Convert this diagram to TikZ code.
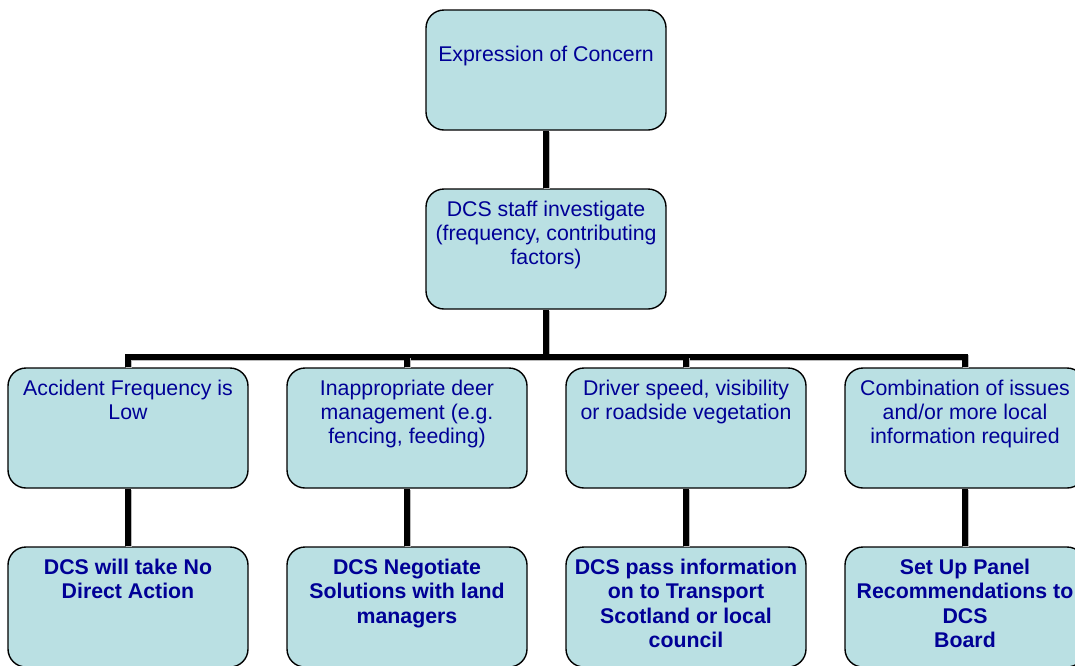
\documentclass[tikz,border=0pt]{standalone}
\usepackage{fontspec}
\setmainfont{Liberation Sans}
\definecolor{boxfill}{RGB}{186,224,227}
\definecolor{txtblue}{RGB}{0,0,150}
\newcommand\bxt[2]{\parbox[c][118pt][t]{226pt}{\centering\rule{0pt}{#1}#2\par}}
\begin{document}
\begin{tikzpicture}[x=1pt,y=-1pt,
  box/.style={draw=black, line width=1.4pt, fill=boxfill, rounded corners=18pt,
    inner xsep=7pt, inner ysep=1pt, text=txtblue,
    font=\fontsize{21.3}{24}\selectfont},
  bbox/.style={box, font=\fontsize{21.3}{24.3}\selectfont\bfseries},
  conn/.style={line width=5.2pt, draw=black,
    preaction={draw=gray!55, line width=5.2pt, transform canvas={shift={(1pt,-1pt)}}}}]
\useasboundingbox (0,0) rectangle (1075,665);

\node[box] (top) at (546,70) {\bxt{50.6pt}{Expression of Concern}};
\node[box] (inv) at (546,249) {\bxt{26.6pt}{DCS staff investigate\\(frequency, contributing\\factors)}};

\node[box] (c1) at (128,428) {\bxt{26.6pt}{Accident Frequency is\\Low}};
\node[box] (c2) at (407,428) {\bxt{26.6pt}{Inappropriate deer\\management (e.g.\\fencing, feeding)}};
\node[box] (c3) at (686,428) {\bxt{26.6pt}{Driver speed, visibility\\or roadside vegetation}};
\node[box] (c4) at (965,428) {\bxt{26.6pt}{Combination of issues\\and/or more local\\information required}};

\node[bbox] (d1) at (128,607) {\bxt{26.6pt}{DCS will take No\\Direct Action}};
\node[bbox] (d2) at (407,607) {\bxt{26.6pt}{DCS Negotiate\\Solutions with land\\managers}};
\node[bbox] (d3) at (686,607) {\bxt{26.6pt}{DCS pass information\\on to Transport\\Scotland or local\\council}};
\node[bbox] (d4) at (965,607) {\bxt{26.6pt}{Set Up Panel\\Recommendations to\\DCS\\Board}};

\coordinate (bar) at (546,357);

\draw[conn] (top.south) -- (inv.north);
\draw[conn] (inv.south) -- (bar);
\draw[conn] (c1.north) |- (bar) -| (c4.north);
\draw[conn] (c2.north) -- (c2.north |- bar);
\draw[conn] (c3.north) -- (c3.north |- bar);
\draw[conn] (c1.south) -- (d1.north);
\draw[conn] (c2.south) -- (d2.north);
\draw[conn] (c3.south) -- (d3.north);
\draw[conn] (c4.south) -- (d4.north);
\end{tikzpicture}
\end{document}
